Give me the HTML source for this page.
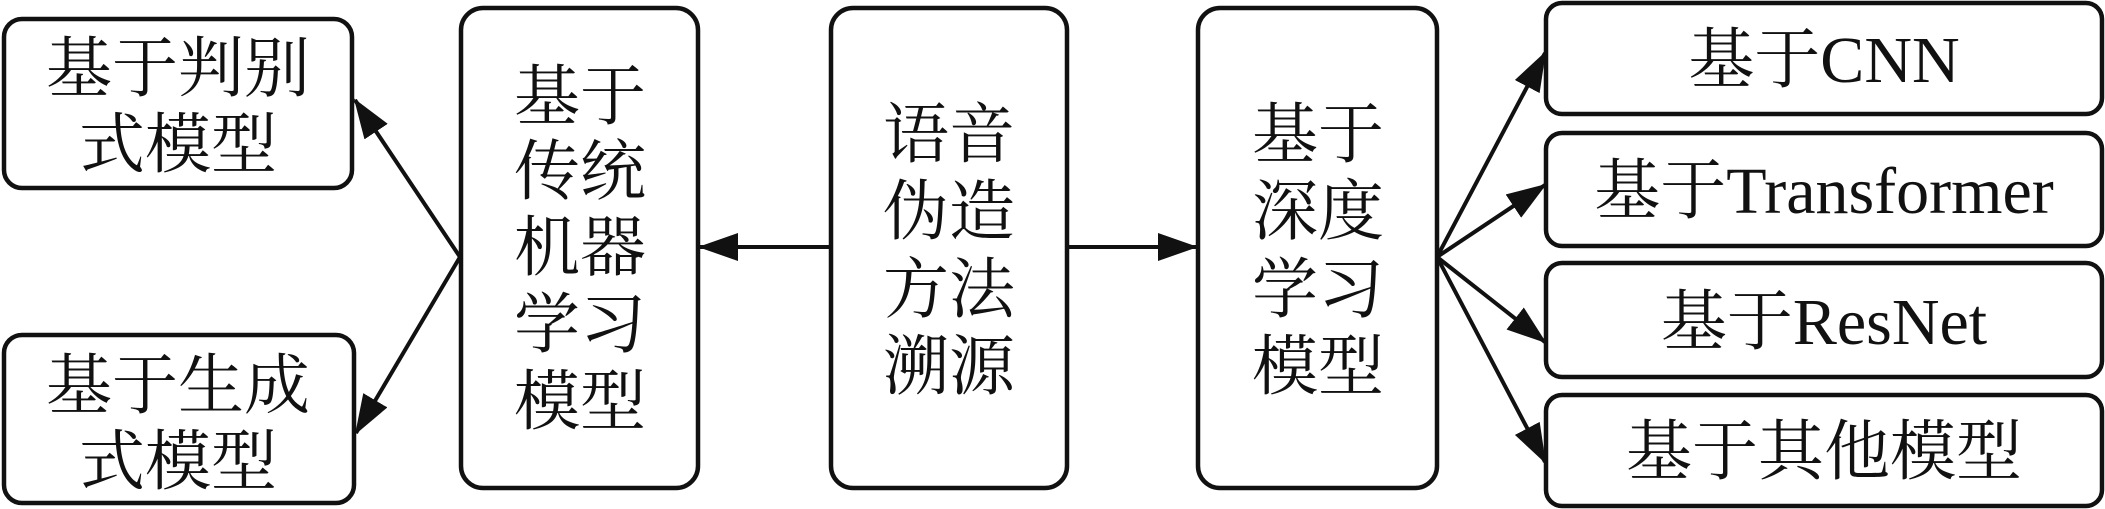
<!DOCTYPE html>
<html><head><meta charset="utf-8"><style>
html,body{margin:0;padding:0;background:#fff;}
svg{display:block;}
text{font-family:"Liberation Serif","Noto Serif CJK SC",serif;font-size:66px;fill:#111;text-anchor:middle;}
</style></head><body>
<svg width="2105" height="509" viewBox="0 0 2105 509" xmlns="http://www.w3.org/2000/svg">
<defs><marker id="a" markerWidth="10" markerHeight="7" refX="9.5" refY="3.5" orient="auto" markerUnits="strokeWidth"><path d="M0,0 L10,3.5 L0,7 Z" fill="#111"/></marker></defs>
<g fill="none" stroke="#111" stroke-width="4.5">
<rect x="4" y="19" width="348" height="169" rx="18"/>
<rect x="4" y="335" width="350" height="168" rx="18"/>
<rect x="461" y="8" width="237" height="480" rx="22"/>
<rect x="831" y="8" width="236" height="480" rx="22"/>
<rect x="1198" y="8" width="239" height="480" rx="22"/>
<rect x="1546" y="3" width="556" height="111" rx="16"/>
<rect x="1546" y="133" width="556" height="113" rx="16"/>
<rect x="1546" y="263" width="556" height="114" rx="16"/>
<rect x="1546" y="395" width="556" height="111" rx="16"/>
</g>
<g stroke="#111" stroke-width="4" fill="none" marker-end="url(#a)">
<line x1="831" y1="247" x2="700" y2="247"/>
<line x1="1067" y1="247" x2="1196" y2="247"/>
<line x1="460" y1="257" x2="355" y2="100"/>
<line x1="460" y1="257" x2="356" y2="433"/>
<line x1="1437" y1="257" x2="1545" y2="53"/>
<line x1="1437" y1="257" x2="1545" y2="185"/>
<line x1="1437" y1="257" x2="1545" y2="342"/>
<line x1="1437" y1="257" x2="1545" y2="462"/>
</g>
<text x="178" y="91">基于判别</text>
<text x="178" y="167">式模型</text>
<text x="178" y="408">基于生成</text>
<text x="178" y="484">式模型</text>
<text x="580" y="119">基于</text>
<text x="580" y="194">传统</text>
<text x="580" y="270">机器</text>
<text x="580" y="347">学习</text>
<text x="580" y="424">模型</text>
<text x="949" y="157">语音</text>
<text x="949" y="234">伪造</text>
<text x="949" y="312">方法</text>
<text x="949" y="389">溯源</text>
<text x="1318" y="157">基于</text>
<text x="1318" y="234">深度</text>
<text x="1318" y="312">学习</text>
<text x="1318" y="389">模型</text>
<text x="1824" y="82">基于CNN</text>
<text x="1824" y="213">基于Transformer</text>
<text x="1824" y="344">基于ResNet</text>
<text x="1824" y="474">基于其他模型</text>
</svg>
</body></html>
